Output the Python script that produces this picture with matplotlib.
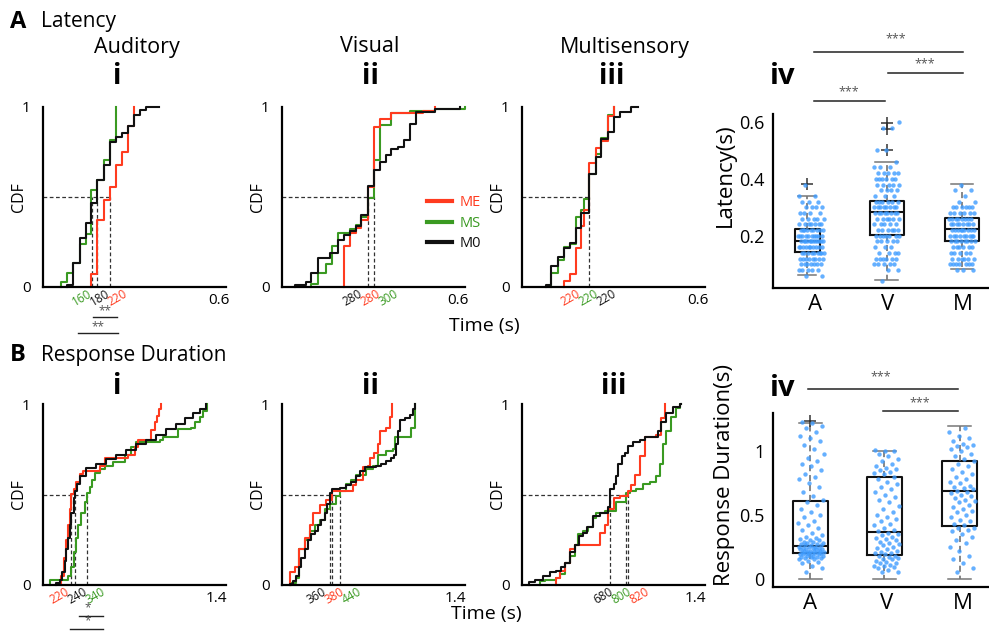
import numpy as np
import matplotlib
matplotlib.use('Agg')
import matplotlib.pyplot as plt
from matplotlib.lines import Line2D

plt.rcParams['font.family'] = ['Open Sans', 'DejaVu Sans']

RED = '#ff3b1f'
GREEN = '#3a9a22'
BLACK = '#111111'
BLUE = '#3f9cff'

# ---------------- Latency CDFs (s) : jump positions / CDF level after jump ----------------
latA_ME_x = [0.165, 0.185, 0.208, 0.227, 0.248, 0.270, 0.290, 0.310]
latA_ME_y = [0.074, 0.37, 0.485, 0.556, 0.676, 0.75, 0.893, 1.0]
latA_MS_x = [0.0625, 0.083, 0.102, 0.125, 0.145, 0.165, 0.185, 0.208, 0.227, 0.248]
latA_MS_y = [0.028, 0.078, 0.133, 0.24, 0.296, 0.54, 0.593, 0.704, 0.815, 1.0]
latA_M0_x = [0.083, 0.102, 0.125, 0.145, 0.165, 0.185, 0.208, 0.227, 0.248, 0.270, 0.290, 0.310, 0.330, 0.352]
latA_M0_y = [0.01, 0.133, 0.27, 0.355, 0.467, 0.593, 0.676, 0.806, 0.833, 0.856, 0.893, 0.954, 0.985, 1.0]
latA_end = [0.310, 0.248, 0.395]

latV_ME_x = [0.210, 0.231, 0.251, 0.270, 0.293, 0.3125, 0.333, 0.373, 0.481, 0.520]
latV_ME_y = [0.227, 0.30, 0.33, 0.37, 0.555, 0.89, 0.935, 0.967, 0.98, 1.0]
latV_MS_x = [0.1, 0.123, 0.151, 0.172, 0.191, 0.231, 0.251, 0.270, 0.293, 0.3125, 0.333, 0.373, 0.435, 0.520, 0.623]
latV_MS_y = [0.015, 0.08, 0.13, 0.227, 0.30, 0.32, 0.345, 0.39, 0.494, 0.705, 0.90, 0.965, 0.98, 0.99, 1.0]
latV_M0_x = [0.043, 0.083, 0.1, 0.123, 0.1625, 0.191, 0.210, 0.231, 0.251, 0.270, 0.293, 0.3125,
             0.333, 0.353, 0.373, 0.395, 0.416, 0.435, 0.458, 0.520, 0.606]
latV_M0_y = [0.01, 0.028, 0.08, 0.162, 0.19, 0.263, 0.29, 0.31, 0.34, 0.40, 0.56, 0.65,
             0.696, 0.733, 0.764, 0.78, 0.816, 0.908, 0.972, 0.99, 1.0]
latV_end = [0.520, 0.623, 0.606]

latM_ME_x = [0.142, 0.1625, 0.183, 0.202, 0.210, 0.228, 0.251, 0.270, 0.293, 0.3125]
latM_ME_y = [0.033, 0.07, 0.217, 0.337, 0.43, 0.687, 0.77, 0.81, 0.95, 1.0]
latM_MS_x = [0.1, 0.123, 0.142, 0.1625, 0.183, 0.202, 0.210, 0.228, 0.251, 0.270, 0.293, 0.3125]
latM_MS_y = [0.08, 0.15, 0.22, 0.24, 0.39, 0.43, 0.49, 0.625, 0.74, 0.83, 0.955, 1.0]
latM_M0_x = [0.081, 0.1, 0.123, 0.142, 0.1625, 0.183, 0.202, 0.228, 0.251, 0.270, 0.293, 0.3125, 0.333, 0.373]
latM_M0_y = [0.01, 0.116, 0.168, 0.217, 0.245, 0.33, 0.41, 0.63, 0.724, 0.825, 0.862, 0.945, 0.972, 1.0]
latM_end = [0.3125, 0.3125, 0.395]

lat_med_pos = [[0.167, 0.185, 0.227], [0.293, 0.3125], [0.228]]
lat_med_text = [['160', '180', '220'], ['280', '280', '300'], ['220', '220', '220']]
lat_med_color = [[GREEN, BLACK, RED], [BLACK, RED, GREEN], [RED, GREEN, BLACK]]

# ---------------- Response duration CDFs (s) ----------------
durA_ME_x = [0.148, 0.169, 0.188, 0.202, 0.215, 0.228, 0.247, 0.269, 0.296, 0.323, 0.457, 0.497,
             0.685, 0.739, 0.766, 0.874, 0.901, 0.919, 0.935, 0.954]
durA_ME_y = [0.05, 0.15, 0.25, 0.33, 0.42, 0.505, 0.53, 0.57, 0.615, 0.63, 0.66, 0.70,
             0.72, 0.76, 0.80, 0.855, 0.90, 0.935, 0.97, 1.0]
durA_MS_x = [0.054, 0.202, 0.228, 0.247, 0.263, 0.282, 0.309, 0.336, 0.358, 0.376, 0.398, 0.417, 0.457,
             0.497, 0.565, 0.659, 0.712, 0.753, 0.941, 0.968, 1.089, 1.196, 1.223, 1.263, 1.290, 1.323]
durA_MS_y = [0.028, 0.05, 0.1, 0.18, 0.26, 0.33, 0.4, 0.46, 0.51, 0.54, 0.58, 0.62, 0.64,
             0.655, 0.68, 0.72, 0.76, 0.79, 0.80, 0.82, 0.86, 0.87, 0.90, 0.93, 0.96, 1.0]
durA_M0_x = [0.108, 0.134, 0.156, 0.175, 0.188, 0.202, 0.215, 0.228, 0.247, 0.261, 0.277, 0.296, 0.349,
             0.430, 0.511, 0.591, 0.672, 0.753, 0.833, 0.914, 0.995, 1.075, 1.142, 1.210, 1.263, 1.317]
durA_M0_y = [0.01, 0.03, 0.07, 0.13, 0.2, 0.26, 0.33, 0.4, 0.48, 0.52, 0.56, 0.6, 0.645,
             0.67, 0.695, 0.72, 0.745, 0.78, 0.80, 0.83, 0.86, 0.89, 0.92, 0.95, 0.975, 1.0]
durA_end = [0.954, 1.323, 1.317]

durV_ME_x = [0.062, 0.102, 0.137, 0.183, 0.223, 0.250, 0.304, 0.352, 0.403, 0.573, 0.599, 0.653,
             0.694, 0.712, 0.739, 0.774, 0.793, 0.841, 0.868, 0.890]
durV_ME_y = [0.07, 0.1, 0.2, 0.26, 0.33, 0.4, 0.44, 0.47, 0.52, 0.55, 0.58, 0.65,
             0.66, 0.7, 0.73, 0.78, 0.85, 0.87, 0.93, 1.0]
durV_MS_x = [0.075, 0.116, 0.137, 0.183, 0.223, 0.263, 0.304, 0.344, 0.384, 0.433, 0.470, 0.519,
             0.559, 0.599, 0.680, 0.734, 0.774, 0.841, 0.895, 0.909, 1.043, 1.075]
durV_MS_y = [0.01, 0.04, 0.2, 0.25, 0.3, 0.33, 0.36, 0.42, 0.45, 0.49, 0.52, 0.56,
             0.58, 0.61, 0.64, 0.66, 0.72, 0.74, 0.75, 0.82, 0.87, 1.0]
durV_M0_x = [0.062, 0.089, 0.116, 0.137, 0.156, 0.183, 0.210, 0.237, 0.263, 0.290, 0.317, 0.344, 0.363,
             0.384, 0.406, 0.465, 0.519, 0.559, 0.594, 0.626, 0.667, 0.761, 0.801, 0.841, 0.882,
             0.903, 0.922, 0.935, 0.954, 0.989, 1.030, 1.056, 1.075]
durV_M0_y = [0.005, 0.02, 0.05, 0.1, 0.15, 0.2, 0.25, 0.28, 0.3, 0.33, 0.36, 0.4, 0.45,
             0.51, 0.53, 0.535, 0.55, 0.57, 0.6, 0.63, 0.65, 0.655, 0.67, 0.685, 0.70,
             0.72, 0.78, 0.85, 0.91, 0.92, 0.94, 0.97, 1.0]
durV_end = [0.890, 1.075, 1.075]

durM_ME_x = [0.277, 0.304, 0.344, 0.384, 0.425, 0.626, 0.667, 0.694, 0.739, 0.788, 0.855, 0.882,
             0.909, 0.949, 0.989, 1.083, 1.124, 1.151]
durM_ME_y = [0.04, 0.08, 0.12, 0.2, 0.22, 0.29, 0.33, 0.42, 0.48, 0.49, 0.52, 0.55,
             0.61, 0.71, 0.82, 0.83, 0.92, 1.0]
durM_MS_x = [0.142, 0.183, 0.277, 0.304, 0.344, 0.384, 0.425, 0.452, 0.492, 0.532, 0.573, 0.599, 0.667,
             0.761, 0.841, 0.868, 0.922, 0.976, 1.030, 1.083, 1.110, 1.137, 1.164, 1.204, 1.245, 1.277]
durM_MS_y = [0.02, 0.03, 0.04, 0.06, 0.12, 0.16, 0.22, 0.28, 0.3, 0.32, 0.37, 0.4, 0.41,
             0.46, 0.51, 0.52, 0.53, 0.56, 0.57, 0.6, 0.67, 0.78, 0.85, 0.93, 0.98, 1.0]
durM_M0_x = [0.056, 0.102, 0.169, 0.223, 0.277, 0.317, 0.344, 0.384, 0.425, 0.460, 0.492, 0.524, 0.573,
             0.626, 0.694, 0.712, 0.739, 0.761, 0.774, 0.809, 0.828, 0.855, 0.895, 0.949, 0.989,
             1.097, 1.124, 1.164, 1.218, 1.277]
durM_M0_y = [0.015, 0.03, 0.05, 0.07, 0.08, 0.1, 0.12, 0.18, 0.22, 0.27, 0.29, 0.32, 0.38,
             0.40, 0.43, 0.53, 0.56, 0.6, 0.67, 0.71, 0.73, 0.77, 0.79, 0.8, 0.82,
             0.85, 0.9, 0.95, 0.985, 1.0]
durM_end = [1.151, 1.285, 1.285]

dur_med_pos = [[0.228, 0.255, 0.358], [0.384, 0.403, 0.470], [0.712, 0.841, 0.855]]
dur_med_text = [['220', '240', '340'], ['360', '380', '440'], ['680', '800', '820']]
dur_med_color = [[RED, BLACK, GREEN], [BLACK, RED, GREEN], [BLACK, GREEN, RED]]

# ---------------- Box plot panels ----------------
groups = ['A', 'V', 'M']
lat_levels = [0.04, 0.06, 0.08, 0.10, 0.12, 0.14, 0.16, 0.18, 0.20, 0.22, 0.24, 0.26, 0.28, 0.30,
              0.32, 0.34, 0.36, 0.38, 0.40, 0.42, 0.44, 0.46, 0.48, 0.50, 0.52, 0.54, 0.56, 0.58, 0.60]
lat_A_counts = [0, 2, 5, 7, 8, 9, 10, 12, 10, 9, 7, 5, 4, 4, 3, 2, 0, 1, 0, 0, 0, 0, 0, 0, 0, 0, 0, 0, 0]
lat_V_counts = [1, 0, 2, 5, 6, 4, 3, 5, 7, 6, 5, 6, 8, 8, 6, 3, 4, 5, 6, 5, 3, 1, 0, 2, 0, 0, 0, 2, 1]
lat_M_counts = [0, 0, 3, 7, 6, 5, 6, 8, 9, 9, 8, 8, 6, 6, 2, 1, 2, 1, 0, 0, 0, 0, 0, 0, 0, 0, 0, 0, 0]

lat_q1 = [0.1435, 0.202, 0.182]
lat_med = [0.182, 0.282, 0.2235]
lat_q3 = [0.2235, 0.322, 0.2635]
lat_wlo = [0.0635, 0.0435, 0.085]
lat_whi = [0.341, 0.459, 0.381]
lat_fliers = [[0.381], [0.50, 0.576, 0.598], []]

dur_A = [0.05, 0.08, 0.10, 0.12, 0.13, 0.14, 0.15, 0.15, 0.16, 0.16, 0.17, 0.17, 0.17, 0.18, 0.18, 0.18,
         0.19, 0.19, 0.19, 0.19, 0.20, 0.20, 0.20, 0.20, 0.21, 0.21, 0.21, 0.21, 0.22, 0.22, 0.22, 0.22,
         0.23, 0.23, 0.23, 0.23, 0.24, 0.24, 0.24, 0.25, 0.25, 0.25, 0.26, 0.26, 0.26, 0.27, 0.27, 0.28,
         0.28, 0.29, 0.29, 0.30, 0.30, 0.31, 0.32, 0.33, 0.34, 0.36, 0.38, 0.40, 0.42, 0.44, 0.45, 0.48,
         0.50, 0.52, 0.55, 0.58, 0.60, 0.62, 0.65, 0.68, 0.72, 0.75, 0.78, 0.80, 0.82, 0.85, 0.88, 0.90,
         0.92, 0.95, 0.98, 1.02, 1.05, 1.08, 1.10, 1.12, 1.15, 1.18, 1.20, 1.22, 1.23]
dur_V = [0.05, 0.05, 0.07, 0.08, 0.09, 0.10, 0.10, 0.11, 0.12, 0.12, 0.13, 0.14, 0.15, 0.15, 0.16, 0.17,
         0.18, 0.18, 0.19, 0.20, 0.20, 0.21, 0.22, 0.23, 0.24, 0.25, 0.26, 0.27, 0.28, 0.29, 0.30, 0.31,
         0.32, 0.33, 0.34, 0.35, 0.36, 0.37, 0.38, 0.40, 0.42, 0.43, 0.45, 0.47, 0.48, 0.50, 0.52, 0.55,
         0.57, 0.60, 0.62, 0.64, 0.66, 0.68, 0.70, 0.72, 0.74, 0.76, 0.78, 0.80, 0.82, 0.83, 0.84, 0.85,
         0.86, 0.87, 0.88, 0.90, 0.92, 0.94, 0.96, 0.98, 1.00, 1.00, 1.01]
dur_M = [0.05, 0.08, 0.12, 0.15, 0.18, 0.22, 0.25, 0.28, 0.30, 0.33, 0.35, 0.37, 0.38, 0.40, 0.40, 0.42,
         0.43, 0.45, 0.46, 0.48, 0.50, 0.52, 0.53, 0.55, 0.56, 0.58, 0.60, 0.61, 0.62, 0.63, 0.65, 0.66,
         0.67, 0.68, 0.69, 0.70, 0.71, 0.72, 0.73, 0.75, 0.76, 0.78, 0.80, 0.82, 0.84, 0.86, 0.88, 0.90,
         0.92, 0.94, 0.96, 0.98, 1.00, 1.02, 1.03, 1.04, 1.05, 1.06, 1.08, 1.10, 1.12, 1.15, 1.18]

dur_q1 = [0.203, 0.184, 0.416]
dur_med = [0.258, 0.363, 0.689]
dur_q3 = [0.61, 0.797, 0.926]
dur_wlo = [0.0, 0.0, 0.0]
dur_whi = [1.22, 1.005, 1.197]
dur_fliers = [[1.235], [], []]

# ---------------- figure ----------------
W, H = 989, 635
fig = plt.figure(figsize=(W / 100, H / 100), dpi=100)


def ax_px(l, t, r, b):
    return fig.add_axes([l / W, 1 - b / H, (r - l) / W, (b - t) / H])


def ftext(x, y, s, **kw):
    fig.text(x / W, 1 - y / H, s, **kw)


DASH = dict(color='#333333', lw=0.9, ls=(0, (3, 2)), zorder=1)


def cdf_panel(ax, curves, meds, mtext, mcolor, xmax, xtick, xtl):
    for m in meds:
        ax.plot([m, m], [0, 0.5], **DASH)
    ax.plot([0, max(meds)], [0.5, 0.5], **DASH)
    for xs, ys, xe, c in curves:
        X = np.r_[xs[0], xs, xe]
        Y = np.r_[0, ys, ys[-1]]
        ax.step(X, Y, where='post', color=c, lw=1.5, clip_on=False, zorder=3)
    ax.set_xlim(0, xmax)
    ax.set_ylim(0, 1)
    for s in ['top', 'right']:
        ax.spines[s].set_visible(False)
    for s in ['left', 'bottom']:
        ax.spines[s].set_linewidth(1.6)
        ax.spines[s].set_zorder(4)
    ax.set_xticks([xtick])
    ax.set_xticklabels([xtl])
    ax.set_yticks([0, 1])
    ax.set_yticklabels(['0', '1'])
    ax.tick_params(axis='both', length=0, labelsize=11)
    ax.tick_params(axis='x', pad=4)
    ax.tick_params(axis='y', pad=9)
    ax.set_ylabel('CDF', fontsize=11.5)
    ax.yaxis.set_label_coords(-0.085, 0.5)
    # median labels placed side by side below the axis
    base = np.mean(meds)
    step = xmax * 0.098
    for k, (t, c) in enumerate(zip(mtext, mcolor)):
        ax.text(base + (k - 1) * step, -0.06, t, color=c, rotation=30,
                ha='center', va='center', fontsize=8.5,
                transform=ax.get_xaxis_transform(), clip_on=False)


lat_sets = [
    [(latA_MS_x, latA_MS_y, latA_end[1], GREEN), (latA_ME_x, latA_ME_y, latA_end[0], RED),
     (latA_M0_x, latA_M0_y, latA_end[2], BLACK)],
    [(latV_MS_x, latV_MS_y, latV_end[1], GREEN), (latV_ME_x, latV_ME_y, latV_end[0], RED),
     (latV_M0_x, latV_M0_y, latV_end[2], BLACK)],
    [(latM_MS_x, latM_MS_y, latM_end[1], GREEN), (latM_ME_x, latM_ME_y, latM_end[0], RED),
     (latM_M0_x, latM_M0_y, latM_end[2], BLACK)],
]
dur_sets = [
    [(durA_MS_x, durA_MS_y, durA_end[1], GREEN), (durA_ME_x, durA_ME_y, durA_end[0], RED),
     (durA_M0_x, durA_M0_y, durA_end[2], BLACK)],
    [(durV_MS_x, durV_MS_y, durV_end[1], GREEN), (durV_ME_x, durV_ME_y, durV_end[0], RED),
     (durV_M0_x, durV_M0_y, durV_end[2], BLACK)],
    [(durM_MS_x, durM_MS_y, durM_end[1], GREEN), (durM_ME_x, durM_ME_y, durM_end[0], RED),
     (durM_M0_x, durM_M0_y, durM_end[2], BLACK)],
]

lefts = [43, 282, 522]
A_axes = []
for k, l in enumerate(lefts):
    ax = ax_px(l, 107, l + 183, 287)
    cdf_panel(ax, lat_sets[k], lat_med_pos[k], lat_med_text[k], lat_med_color[k], 0.624, 0.6, '0.6')
    A_axes.append(ax)
B_axes = []
for k, l in enumerate(lefts):
    ax = ax_px(l, 404, l + 183, 585)
    cdf_panel(ax, dur_sets[k], dur_med_pos[k], dur_med_text[k], dur_med_color[k], 1.475, 1.4, '1.4')
    B_axes.append(ax)

# legend in A-ii
handles = [Line2D([], [], color=RED, lw=3), Line2D([], [], color=GREEN, lw=3), Line2D([], [], color=BLACK, lw=3)]
leg = A_axes[1].legend(handles, ['ME', 'MS', 'M0'], loc='upper left', bbox_to_anchor=(0.755, 0.55),
                       frameon=False, fontsize=10.5, handlelength=1.7, handletextpad=0.5,
                       labelspacing=0.38, borderpad=0, labelcolor=[RED, GREEN, BLACK])


# significance bars under CDF panels
def sig_under(ax, bars):
    tr = ax.get_xaxis_transform()
    for x0, x1, y, sx, sy, s in bars:
        ax.plot([x0, x1], [y, y], color='#222222', lw=1.0, transform=tr, clip_on=False)
        ax.text(sx, sy, s, color='#555555', fontsize=8.5, ha='center', va='center', transform=tr,
                clip_on=False)


sig_under(A_axes[0], [(0.170, 0.252, -0.167, 0.211, -0.132, '**'),
                      (0.119, 0.256, -0.256, 0.188, -0.221, '**')])
sig_under(B_axes[0], [(0.290, 0.484, -0.171, 0.363, -0.127, '*'),
                      (0.218, 0.484, -0.241, 0.357, -0.200, '*')])


# ---------------- box plots ----------------
def jitter(n, half):
    k = np.arange(n)
    return ((k * 0.6180339887 + 0.31) % 1.0 - 0.5) * 2 * half


def box_panel(ax, q1, med, q3, wlo, whi, fl, pos, widths, capw, vals, ylim, yticks, ytl):
    stats = [dict(q1=q1[i], med=med[i], q3=q3[i], whislo=wlo[i], whishi=whi[i], fliers=fl[i])
             for i in range(3)]
    ax.bxp(stats, positions=pos, widths=widths, capwidths=capw,
           boxprops=dict(color='#111111', lw=1.5),
           medianprops=dict(color='#111111', lw=1.5),
           whiskerprops=dict(color='#666666', lw=1.1, ls=(0, (4, 2.5))),
           capprops=dict(color='#777777', lw=1.1),
           flierprops=dict(marker='+', markeredgecolor='#333333', markersize=9, markeredgewidth=1.1),
           manage_ticks=False, zorder=2)
    for i, v in enumerate(vals):
        v = np.asarray(v)
        ax.scatter(i + 1 + jitter(len(v), 0.17), v, s=10, color=BLUE, alpha=0.8, lw=0, zorder=3)
    ax.set_xlim(0.497, 3.357)
    ax.set_ylim(*ylim)
    for s in ['top', 'right']:
        ax.spines[s].set_visible(False)
    for s in ['left', 'bottom']:
        ax.spines[s].set_linewidth(1.6)
    ax.set_yticks(yticks)
    ax.set_yticklabels(ytl)
    ax.tick_params(length=0)
    ax.tick_params(axis='y', labelsize=13, pad=6)
    ax.tick_params(axis='x', labelsize=16, pad=4)


axL = ax_px(773, 114, 989, 288)
lat_vals = [np.repeat(lat_levels, lat_A_counts), np.repeat(lat_levels, lat_V_counts),
            np.repeat(lat_levels, lat_M_counts)]
box_panel(axL, lat_q1, lat_med, lat_q3, lat_wlo, lat_whi, lat_fliers, [0.95, 2.0, 3.0],
          [0.33, 0.45, 0.45], [0.24, 0.3, 0.3], lat_vals, (0.0165, 0.628), [0.2, 0.4, 0.6],
          ['0.2', '0.4', '0.6'])
axL.set_xticks([1.05, 2.01, 3.01])
axL.set_xticklabels(groups)
axL.set_ylabel('Latency(s)', fontsize=16)
axL.yaxis.set_label_coords(-0.17, 0.65)

axD = ax_px(773, 413, 989, 587)
box_panel(axD, dur_q1, dur_med, dur_q3, dur_wlo, dur_whi, dur_fliers, [0.99, 1.97, 2.97],
          [0.46, 0.46, 0.46], [0.3, 0.3, 0.3], [dur_A, dur_V, dur_M], (-0.066, 1.30), [0, 0.5, 1],
          ['0', '0.5', '1'])
axD.set_xticks([0.99, 2.0, 3.01])
axD.set_xticklabels(groups)
axD.set_ylabel('Response Duration(s)', fontsize=16)
axD.yaxis.set_label_coords(-0.175, 0.645)


def sig_above(ax, bars):
    for x0, x1, y, sx, sy in bars:
        ax.plot([x0, x1], [y, y], color='#222222', lw=1.1, clip_on=False)
        ax.text(sx, sy, '***', color='#555555', fontsize=9, ha='center', va='center', clip_on=False)


sig_above(axL, [(1.04, 3.01, 0.847, 2.12, 0.893), (2.02, 3.01, 0.771, 2.5, 0.805),
                (1.04, 1.98, 0.673, 1.5, 0.707)])
sig_above(axD, [(0.96, 2.95, 1.492, 1.93, 1.585), (1.95, 2.95, 1.316, 2.44, 1.38)])

# ---------------- titles and labels ----------------
ftext(10, 22, 'A', fontsize=17, fontweight='bold', ha='left', va='center')
ftext(41, 22, 'Latency', fontsize=15, ha='left', va='center')
ftext(137, 47, 'Auditory', fontsize=15.5, ha='center', va='center')
ftext(370, 47, 'Visual', fontsize=15.5, ha='center', va='center')
ftext(625, 47, 'Multisensory', fontsize=15.5, ha='center', va='center')
for x, s in [(117, 'i'), (370, 'ii'), (612, 'iii')]:
    ftext(x, 76, s, fontsize=20, fontweight='bold', ha='center', va='center')
ftext(770, 77, 'iv', fontsize=21, fontweight='bold', ha='left', va='center')
ftext(484, 326, 'Time (s)', fontsize=14, ha='center', va='center')

ftext(10, 355, 'B', fontsize=17, fontweight='bold', ha='left', va='center')
ftext(41, 355, 'Response Duration', fontsize=15, ha='left', va='center')
for x, s in [(117, 'i'), (370, 'ii'), (614, 'iii')]:
    ftext(x, 387, s, fontsize=20, fontweight='bold', ha='center', va='center')
ftext(770, 388, 'iv', fontsize=21, fontweight='bold', ha='left', va='center')
ftext(486, 614, 'Time (s)', fontsize=14, ha='center', va='center')

fig.savefig('out.png', dpi=100)
